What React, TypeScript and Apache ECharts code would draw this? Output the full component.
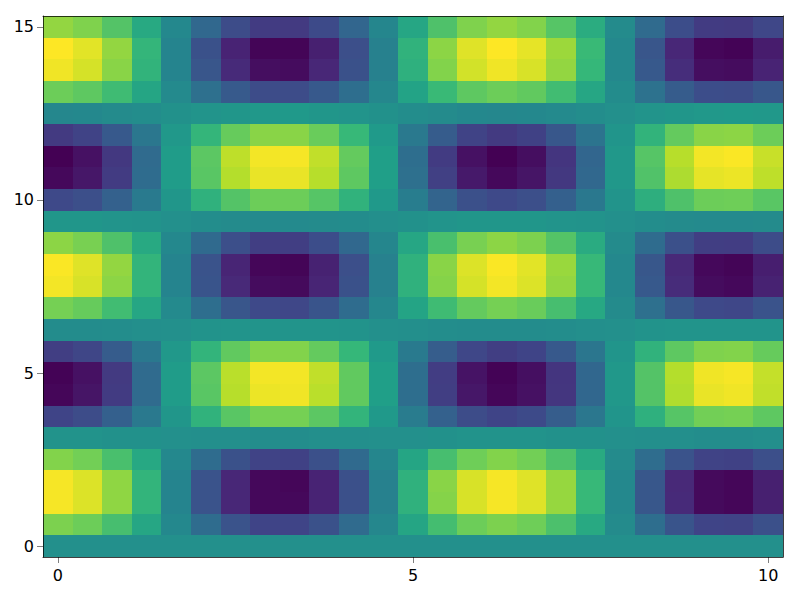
import React, { useEffect, useRef } from "react";
import * as echarts from "echarts";

// cell centres
const xValues = [0, 0.4167, 0.8333, 1.25, 1.6667, 2.0833, 2.5, 2.9167, 3.3333, 3.75, 4.1667, 4.5833, 5, 5.4167, 5.8333, 6.25, 6.6667, 7.0833, 7.5, 7.9167, 8.3333, 8.75, 9.1667, 9.5833, 10];
const yValues = [0, 0.625, 1.25, 1.875, 2.5, 3.125, 3.75, 4.375, 5, 5.625, 6.25, 6.875, 7.5, 8.125, 8.75, 9.375, 10, 10.625, 11.25, 11.875, 12.5, 13.125, 13.75, 14.375, 15];

// z values, one row per y (bottom to top), one column per x
const zRows: number[][] = [
  [0, 0, 0, 0, 0, 0, 0, 0, 0, 0, 0, 0, 0, 0, 0, 0, 0, 0, 0, 0, 0, 0, 0, 0, 0],
  [0.58, 0.53, 0.39, 0.18, -0.06, -0.29, -0.47, -0.57, -0.57, -0.48, -0.30, -0.07, 0.17, 0.38, 0.53, 0.58, 0.54, 0.41, 0.20, -0.04, -0.27, -0.46, -0.57, -0.58, -0.49],
  [0.95, 0.87, 0.64, 0.30, -0.09, -0.47, -0.76, -0.93, -0.93, -0.78, -0.49, -0.12, 0.27, 0.61, 0.86, 0.95, 0.88, 0.66, 0.33, -0.06, -0.44, -0.74, -0.92, -0.94, -0.80],
  [0.95, 0.87, 0.64, 0.30, -0.09, -0.47, -0.76, -0.93, -0.94, -0.78, -0.49, -0.12, 0.27, 0.62, 0.86, 0.95, 0.88, 0.66, 0.33, -0.06, -0.44, -0.75, -0.92, -0.94, -0.80],
  [0.60, 0.55, 0.40, 0.19, -0.06, -0.29, -0.48, -0.58, -0.59, -0.49, -0.31, -0.08, 0.17, 0.39, 0.54, 0.60, 0.55, 0.42, 0.21, -0.04, -0.28, -0.47, -0.58, -0.59, -0.50],
  [0.02, 0.02, 0.01, 0.01, 0.00, -0.01, -0.01, -0.02, -0.02, -0.01, -0.01, 0.00, 0.00, 0.01, 0.02, 0.02, 0.02, 0.01, 0.01, 0.00, -0.01, -0.01, -0.02, -0.02, -0.01],
  [-0.57, -0.52, -0.38, -0.18, 0.05, 0.28, 0.46, 0.56, 0.56, 0.47, 0.30, 0.07, -0.16, -0.37, -0.52, -0.57, -0.53, -0.40, -0.20, 0.04, 0.26, 0.45, 0.55, 0.56, 0.48],
  [-0.94, -0.86, -0.63, -0.30, 0.09, 0.46, 0.76, 0.92, 0.93, 0.77, 0.49, 0.12, -0.27, -0.61, -0.85, -0.94, -0.88, -0.66, -0.33, 0.06, 0.44, 0.74, 0.91, 0.93, 0.79],
  [-0.96, -0.88, -0.64, -0.30, 0.09, 0.47, 0.77, 0.94, 0.94, 0.79, 0.49, 0.12, -0.27, -0.62, -0.87, -0.96, -0.89, -0.67, -0.33, 0.06, 0.44, 0.75, 0.93, 0.95, 0.80],
  [-0.61, -0.56, -0.41, -0.19, 0.06, 0.30, 0.49, 0.60, 0.60, 0.50, 0.32, 0.08, -0.17, -0.40, -0.55, -0.61, -0.57, -0.43, -0.21, 0.04, 0.28, 0.48, 0.59, 0.60, 0.51],
  [-0.03, -0.03, -0.02, -0.01, 0.00, 0.02, 0.03, 0.03, 0.03, 0.03, 0.02, 0.00, -0.01, -0.02, -0.03, -0.03, -0.03, -0.02, -0.01, 0.00, 0.02, 0.03, 0.03, 0.03, 0.03],
  [0.56, 0.51, 0.37, 0.18, -0.05, -0.27, -0.45, -0.54, -0.55, -0.46, -0.29, -0.07, 0.16, 0.36, 0.50, 0.56, 0.52, 0.39, 0.19, -0.04, -0.26, -0.44, -0.54, -0.55, -0.47],
  [0.94, 0.86, 0.63, 0.30, -0.09, -0.46, -0.75, -0.91, -0.92, -0.77, -0.48, -0.12, 0.27, 0.61, 0.85, 0.94, 0.87, 0.65, 0.33, -0.06, -0.43, -0.73, -0.91, -0.93, -0.79],
  [0.96, 0.88, 0.65, 0.30, -0.09, -0.47, -0.77, -0.94, -0.95, -0.79, -0.50, -0.12, 0.27, 0.62, 0.87, 0.96, 0.89, 0.67, 0.33, -0.06, -0.44, -0.75, -0.93, -0.95, -0.81],
  [0.63, 0.57, 0.42, 0.20, -0.06, -0.31, -0.50, -0.61, -0.61, -0.51, -0.32, -0.08, 0.18, 0.40, 0.57, 0.63, 0.58, 0.44, 0.22, -0.04, -0.29, -0.49, -0.61, -0.62, -0.52],
  [0.05, 0.05, 0.03, 0.02, 0.00, -0.02, -0.04, -0.05, -0.05, -0.04, -0.03, -0.01, 0.01, 0.03, 0.05, 0.05, 0.05, 0.03, 0.02, 0.00, -0.02, -0.04, -0.05, -0.05, -0.04],
  [-0.54, -0.50, -0.37, -0.17, 0.05, 0.27, 0.44, 0.53, 0.53, 0.45, 0.28, 0.07, -0.15, -0.35, -0.49, -0.54, -0.50, -0.38, -0.19, 0.03, 0.25, 0.42, 0.53, 0.54, 0.46],
  [-0.93, -0.85, -0.63, -0.29, 0.09, 0.46, 0.75, 0.91, 0.91, 0.76, 0.48, 0.12, -0.26, -0.60, -0.84, -0.93, -0.86, -0.65, -0.32, 0.06, 0.43, 0.73, 0.90, 0.92, 0.78],
  [-0.97, -0.88, -0.65, -0.30, 0.09, 0.47, 0.78, 0.94, 0.95, 0.79, 0.50, 0.12, -0.27, -0.63, -0.88, -0.97, -0.90, -0.67, -0.34, 0.06, 0.45, 0.76, 0.94, 0.96, 0.81],
  [-0.64, -0.58, -0.43, -0.20, 0.06, 0.31, 0.51, 0.62, 0.62, 0.52, 0.33, 0.08, -0.18, -0.41, -0.58, -0.64, -0.59, -0.44, -0.22, 0.04, 0.29, 0.50, 0.62, 0.63, 0.53],
  [-0.07, -0.06, -0.04, -0.02, 0.01, 0.03, 0.05, 0.06, 0.07, 0.05, 0.03, 0.01, -0.02, -0.04, -0.06, -0.07, -0.06, -0.05, -0.02, 0.00, 0.03, 0.05, 0.06, 0.07, 0.06],
  [0.53, 0.48, 0.36, 0.17, -0.05, -0.26, -0.42, -0.52, -0.52, -0.43, -0.27, -0.07, 0.15, 0.34, 0.48, 0.53, 0.49, 0.37, 0.18, -0.03, -0.24, -0.41, -0.51, -0.52, -0.44],
  [0.93, 0.85, 0.62, 0.29, -0.09, -0.45, -0.74, -0.90, -0.91, -0.76, -0.48, -0.12, 0.26, 0.60, 0.84, 0.93, 0.86, 0.65, 0.32, -0.06, -0.43, -0.72, -0.90, -0.91, -0.78],
  [0.97, 0.89, 0.65, 0.31, -0.09, -0.48, -0.78, -0.95, -0.95, -0.80, -0.50, -0.12, 0.28, 0.63, 0.88, 0.97, 0.90, 0.68, 0.34, -0.06, -0.45, -0.76, -0.94, -0.96, -0.82],
  [0.65, 0.59, 0.44, 0.20, -0.06, -0.32, -0.52, -0.63, -0.64, -0.53, -0.34, -0.08, 0.18, 0.42, 0.59, 0.65, 0.60, 0.45, 0.23, -0.04, -0.30, -0.51, -0.63, -0.64, -0.55],
];

const xTicks = [0, 5, 10];
const yTicks = [0, 5, 10, 15];

const viridis = ["#440154", "#482878", "#3e4989", "#31688e", "#26828e", "#1f9e89", "#35b779", "#6ece58", "#b5de2b", "#fde725"];

export default function App() {
  const ref = useRef<HTMLDivElement>(null);
  useEffect(() => {
    if (!ref.current) return;
    const chart = echarts.init(ref.current, null, { renderer: "svg" });
    const dx = xValues[1] - xValues[0];
    const dy = yValues[1] - yValues[0];
    const data: number[][] = [];
    let zmin = Infinity;
    let zmax = -Infinity;
    zRows.forEach((row, j) => {
      row.forEach((z, i) => {
        data.push([xValues[i], yValues[j], z]);
        zmin = Math.min(zmin, z);
        zmax = Math.max(zmax, z);
      });
    });
    const xMin = xValues[0] - dx / 2;
    const xMax = xValues[xValues.length - 1] + dx / 2;
    const yMin = yValues[0] - dy / 2;
    const yMax = yValues[yValues.length - 1] + dy / 2;
    const font = "DejaVu Sans";
    const frameColor = "rgba(0,0,0,0.75)";
    const tickColor = "rgba(0,0,0,0.5)";
    const option: any = {
      animation: false,
      grid: { left: 43, right: 17, top: 16, bottom: 43, containLabel: false },
      visualMap: {
        show: false,
        dimension: 2,
        min: zmin,
        max: zmax,
        seriesIndex: 0,
        inRange: { color: viridis },
      },
      xAxis: [
        {
          type: "value",
          min: xMin,
          max: xMax,
          position: "bottom",
          z: 10,
          splitLine: { show: false },
          axisLine: { show: true, onZero: false, lineStyle: { color: frameColor, width: 1 } },
          axisTick: { show: true, customValues: xTicks, length: 6, inside: false, lineStyle: { color: tickColor, width: 1 } },
          axisLabel: { show: true, customValues: xTicks, color: "#000", fontSize: 16, fontFamily: font, margin: 10 },
        },
        {
          type: "value",
          min: xMin,
          max: xMax,
          position: "top",
          z: 10,
          splitLine: { show: false },
          axisLine: { show: true, onZero: false, lineStyle: { color: frameColor, width: 1 } },
          axisTick: { show: false },
          axisLabel: { show: false },
        },
      ],
      yAxis: [
        {
          type: "value",
          min: yMin,
          max: yMax,
          position: "left",
          z: 10,
          splitLine: { show: false },
          axisLine: { show: true, onZero: false, lineStyle: { color: frameColor, width: 1 } },
          axisTick: { show: true, customValues: yTicks, length: 6, inside: false, lineStyle: { color: tickColor, width: 1 } },
          axisLabel: { show: true, customValues: yTicks, color: "#000", fontSize: 16, fontFamily: font, margin: 9 },
        },
        {
          type: "value",
          min: yMin,
          max: yMax,
          position: "right",
          z: 10,
          splitLine: { show: false },
          axisLine: { show: true, onZero: false, lineStyle: { color: frameColor, width: 1 } },
          axisTick: { show: false },
          axisLabel: { show: false },
        },
      ],
      series: [
        {
          type: "custom",
          xAxisIndex: 0,
          yAxisIndex: 0,
          encode: { x: 0, y: 1 },
          data,
          renderItem: (params: any, api: any) => {
            const x = api.value(0);
            const y = api.value(1);
            const p0 = api.coord([x - dx / 2, y + dy / 2]);
            const p1 = api.coord([x + dx / 2, y - dy / 2]);
            const x0 = Math.round(p0[0]);
            const y0 = Math.round(p0[1]);
            const x1 = Math.round(p1[0]);
            const y1 = Math.round(p1[1]);
            const color = api.visual("color");
            return {
              type: "rect",
              shape: { x: x0, y: y0, width: x1 - x0, height: y1 - y0 },
              style: { fill: color, stroke: null, lineWidth: 0 },
            };
          },
        },
      ],
    };
    chart.setOption(option);
    return () => chart.dispose();
  }, []);
  return <div ref={ref} style={{ width: 800, height: 600, position: "absolute", left: 0, top: 0 }} />;
}
